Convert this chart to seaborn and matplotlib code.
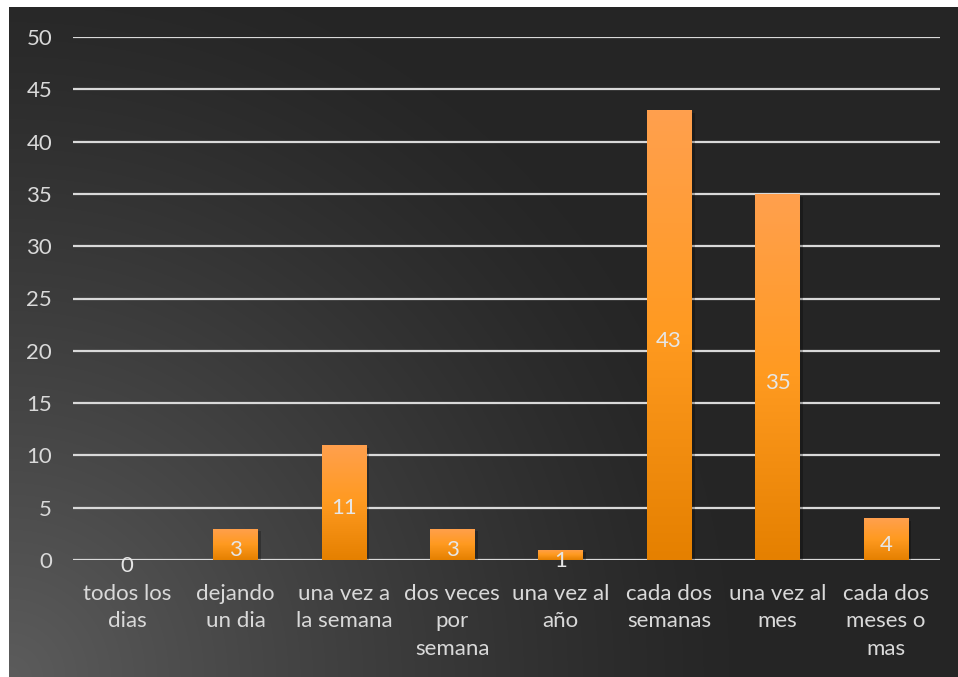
import numpy as np
import pandas as pd
import matplotlib
matplotlib.use("Agg")
import matplotlib.pyplot as plt
import seaborn as sns
from matplotlib.colors import LinearSegmentedColormap

categories = ["todos los\ndias", "dejando\nun dia", "una vez a\nla semana", "dos veces\npor\nsemana",
              "una vez al\naño", "cada dos\nsemanas", "una vez al\nmes", "cada dos\nmeses o\nmas"]
values = [0, 3, 11, 3, 1, 43, 35, 4]
yticks = [0, 5, 10, 15, 20, 25, 30, 35, 40, 45, 50]

sns.set_theme(style="dark")
plt.rcParams['font.family'] = ['Lato', 'DejaVu Sans']

W, H = 958, 677
fig = plt.figure(figsize=(W / 100, H / 100), dpi=100)
fig.patch.set_facecolor("white")

# background with radial gradient
bg = fig.add_axes([9 / W, 0, (W - 9) / W, (H - 7) / H])
bg.set_axis_off()
nx, ny = 949, 670
xx, yy = np.meshgrid(np.arange(nx), np.arange(ny))
d = np.sqrt((xx - 0) ** 2 + (yy - ny) ** 2)
t = np.clip(1 - d / 720, 0, 1) ** 1.2
lo, hi = 0x26 / 255, 0x5c / 255
img = lo + (hi - lo) * t
bg.imshow(np.dstack([img, img, img]), aspect="auto", extent=[0, 1, 0, 1], origin="upper")
bg.set_xlim(0, 1); bg.set_ylim(0, 1)

ax = fig.add_axes([73 / W, 1 - 560 / H, (940 - 73) / W, (560 - 37) / H])
ax.patch.set_alpha(0)
df = pd.DataFrame({"cat": categories, "val": values})
sns.barplot(data=df, x="cat", y="val", ax=ax, width=0.41, color="#F7931E", zorder=3,
            saturation=1, linewidth=0, edgecolor="none")
ax.set_ylim(0, 50)
ax.set_xlim(-0.5, len(categories) - 0.5)
ax.set_yticks(yticks)
ax.set_xlabel("")
ax.set_ylabel("")
for s in ax.spines.values():
    s.set_visible(False)
ax.grid(False)
for yv in yticks:
    ax.axhline(yv, color="#d9d9d9", lw=1.6, zorder=2)

cmap = LinearSegmentedColormap.from_list("o", ["#E58000", "#FF9A20", "#FFA04E"])
grad = np.linspace(0, 1, 256).reshape(-1, 1)
for p in ax.patches:
    x0, w, h = p.get_x(), p.get_width(), p.get_height()
    if h <= 0:
        continue
    # shadow
    ax.add_patch(plt.Rectangle((x0 + 0.02, 0), w + 0.01, h - 0.25, color="black", alpha=0.25,
                               zorder=2.5, lw=0))
    im = ax.imshow(grad, cmap=cmap, aspect="auto", extent=[x0, x0 + w, 0, h], origin="lower",
                   zorder=3.5)
    im.set_clip_path(p)
ax.set_xlim(-0.5, len(categories) - 0.5)
ax.set_ylim(0, 50)

ax.tick_params(axis="y", colors="#d9d9d9", labelsize=16, length=0, pad=15)
ax.tick_params(axis="x", colors="#d9d9d9", labelsize=16, length=0, pad=17)
for lab in ax.get_xticklabels():
    lab.set_linespacing(1.48)
    lab.set_verticalalignment("top")

for i, v in enumerate(values):
    ax.annotate(str(v), (i, v / 2), xytext=(0, -6), textcoords="offset pixels",
                ha="center", va="center", color="#e6e6e6", fontsize=16, zorder=5)

fig.savefig("out.png", dpi=100)
